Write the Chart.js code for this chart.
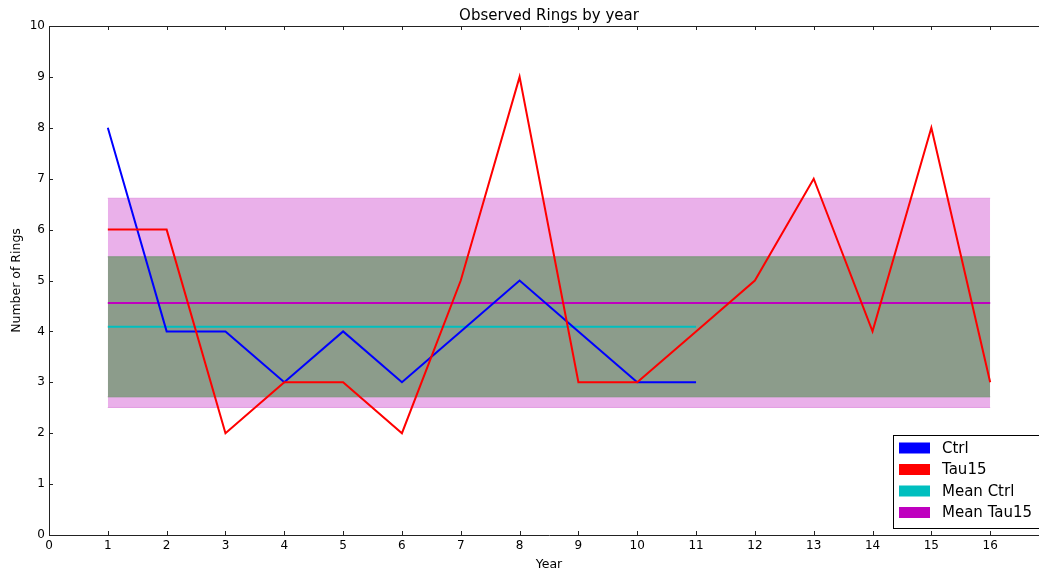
<!DOCTYPE html>
<html>
<head>
<meta charset="utf-8">
<script src="https://cdn.jsdelivr.net/npm/chart.js@4/dist/chart.umd.min.js"></script>
<style>
  html, body { margin: 0; padding: 0; background: #fff; overflow: hidden; }
  #wrap { width: 1050px; height: 574px; }
</style>
</head>
<body>
<div id="wrap"><canvas id="chart" width="1050" height="574"></canvas></div>
<script>
// -------- data --------
var years      = [1, 2, 3, 4, 5, 6, 7, 8, 9, 10, 11, 12, 13, 14, 15, 16];
var ctrlYears  = [1, 2, 3, 4, 5, 6, 7, 8, 9, 10, 11];
var ctrlRings  = [8, 4, 4, 3, 4, 3, 4, 5, 4, 3, 3];
var tau15Rings = [6, 6, 2, 3, 3, 2, 5, 9, 3, 3, 4, 5, 7, 4, 8, 3];
var meanCtrl   = 4.09;
var sdCtrl     = 1.375;
var meanTau15  = 4.56;
var sdTau15    = 2.055;
var bandYears  = [1, 16];
var xTicks     = [0, 1, 2, 3, 4, 5, 6, 7, 8, 9, 10, 11, 12, 13, 14, 15, 16, 17];
var yTicks     = [0, 1, 2, 3, 4, 5, 6, 7, 8, 9, 10];

var FONT = '"DejaVu Sans", sans-serif';

function pts(xs, ys) {
  return xs.map(function (x, i) { return { x: x, y: ys[i] }; });
}
function flat(xs, v) {
  return xs.map(function (x) { return { x: x, y: v }; });
}
function line(label, data, color, order) {
  return {
    label: label, data: data, borderColor: color, backgroundColor: color,
    borderWidth: 2, pointRadius: 0, tension: 0, fill: false, order: order
  };
}
function band(data, fill, edge, fillTo, order) {
  return {
    label: "", data: data, borderColor: edge, backgroundColor: fill,
    borderWidth: 1, pointRadius: 0, fill: fillTo, order: order, band: true
  };
}

// matplotlib-classic look: spines + inward ticks, title and legend box
var decor = {
  id: "decor",
  afterDraw: function (chart) {
    var ctx = chart.ctx, a = chart.chartArea;
    var xs = chart.scales.x, ys = chart.scales.y;
    ctx.save();
    ctx.strokeStyle = "#222";
    ctx.lineWidth = 1;
    ctx.beginPath();
    ctx.moveTo(a.left + 0.5, a.bottom + 0.5);
    ctx.lineTo(a.left + 0.5, a.top + 0.5);
    ctx.lineTo(a.right + 0.5, a.top + 0.5);
    ctx.lineTo(a.right + 0.5, a.bottom + 0.5);
    ctx.closePath();
    ctx.stroke();
    ctx.beginPath();
    xTicks.forEach(function (t) {
      var px = Math.round(xs.getPixelForValue(t)) + 0.5;
      ctx.moveTo(px, a.bottom); ctx.lineTo(px, a.bottom - 4);
      ctx.moveTo(px, a.top); ctx.lineTo(px, a.top + 4);
    });
    yTicks.forEach(function (t) {
      var py = Math.round(ys.getPixelForValue(t)) + 0.5;
      ctx.moveTo(a.left, py); ctx.lineTo(a.left + 4, py);
      ctx.moveTo(a.right, py); ctx.lineTo(a.right - 4, py);
    });
    ctx.stroke();

    // title
    ctx.fillStyle = "#000";
    ctx.font = "15px " + FONT;
    ctx.textAlign = "center";
    ctx.textBaseline = "middle";
    ctx.fillText("Observed Rings by year", (a.left + a.right) / 2, 16);

    // legend (lower right)
    var items = chart.data.datasets.filter(function (d) { return !d.band; })
      .sort(function (p, q) { return p.legendIndex - q.legendIndex; });
    var bx = a.right - 156, by = a.bottom - 100, bw = 149, bh = 93;
    ctx.fillStyle = "#fff";
    ctx.fillRect(bx, by, bw, bh);
    ctx.strokeStyle = "#000";
    ctx.strokeRect(bx + 0.5, by + 0.5, bw, bh);
    ctx.font = "15px " + FONT;
    ctx.textAlign = "left";
    items.forEach(function (d, i) {
      var cy = by + 13 + i * 21.5;
      ctx.fillStyle = d.borderColor;
      ctx.fillRect(bx + 6, cy - 5.5, 31, 11);
      ctx.fillStyle = "#000";
      ctx.fillText(d.label, bx + 49, cy + 1);
    });
    ctx.restore();
  }
};

var meanCtrlLine  = line("Mean Ctrl", flat(ctrlYears, meanCtrl), "#00bfbf", 3);
var meanTau15Line = line("Mean Tau15", flat(years, meanTau15), "#bf00bf", 4);
var ctrlLine      = line("Ctrl", pts(ctrlYears, ctrlRings), "#0000ff", 1);
var tau15Line     = line("Tau15", pts(years, tau15Rings), "#ff0000", 0);
ctrlLine.legendIndex = 0; tau15Line.legendIndex = 1;
meanCtrlLine.legendIndex = 2; meanTau15Line.legendIndex = 3;

new Chart(document.getElementById("chart"), {
  type: "line",
  data: {
    datasets: [
      band(flat(bandYears, meanTau15 + sdTau15), "#eab0ea", "#e39fe3", "+1", 9),
      band(flat(bandYears, meanTau15 - sdTau15), "rgba(0,0,0,0)", "#e39fe3", false, 8),
      band(flat(bandYears, meanCtrl + sdCtrl), "#8c9c8b", "#7f967e", "+1", 7),
      band(flat(bandYears, meanCtrl - sdCtrl), "rgba(0,0,0,0)", "#7f967e", false, 6),
      meanTau15Line,
      meanCtrlLine,
      ctrlLine,
      tau15Line
    ]
  },
  options: {
    responsive: false,
    animation: false,
    devicePixelRatio: 1,
    layout: { padding: { top: 26, right: 1, left: 0, bottom: 0 } },
    plugins: {
      legend: { display: false },
      title: { display: false },
      tooltip: { enabled: false }
    },
    scales: {
      x: {
        type: "linear", min: 0, max: 17,
        grid: { display: false, drawTicks: false },
        border: { display: false },
        afterBuildTicks: function (s) {
          s.ticks = xTicks.filter(function (v) { return v <= 16; }).map(function (v) { return { value: v }; });
        },
        afterFit: function (s) {
          s.height = 39;
          s.paddingLeft = 0; s.paddingRight = 0;
        },
        ticks: {
          autoSkip: false, maxRotation: 0, padding: 4, color: "#000",
          font: { family: FONT, size: 12 }
        },
        title: {
          display: true, text: "Year", color: "#000",
          font: { family: FONT, size: 12.5 }, padding: { top: 0, bottom: 2 }
        }
      },
      y: {
        type: "linear", min: 0, max: 10,
        grid: { display: false, drawTicks: false },
        border: { display: false },
        afterBuildTicks: function (s) {
          s.ticks = yTicks.map(function (v) { return { value: v }; });
        },
        afterFit: function (s) {
          s.width = 49;
          s.paddingTop = 0; s.paddingBottom = 0;
        },
        ticks: {
          autoSkip: false, padding: 4, color: "#000",
          font: { family: FONT, size: 12 }
        },
        title: {
          display: true, text: "Number of Rings", color: "#000",
          font: { family: FONT, size: 12.5 }, padding: { top: 9, bottom: 0 }
        }
      }
    }
  },
  plugins: [decor]
});
</script>
</body>
</html>
